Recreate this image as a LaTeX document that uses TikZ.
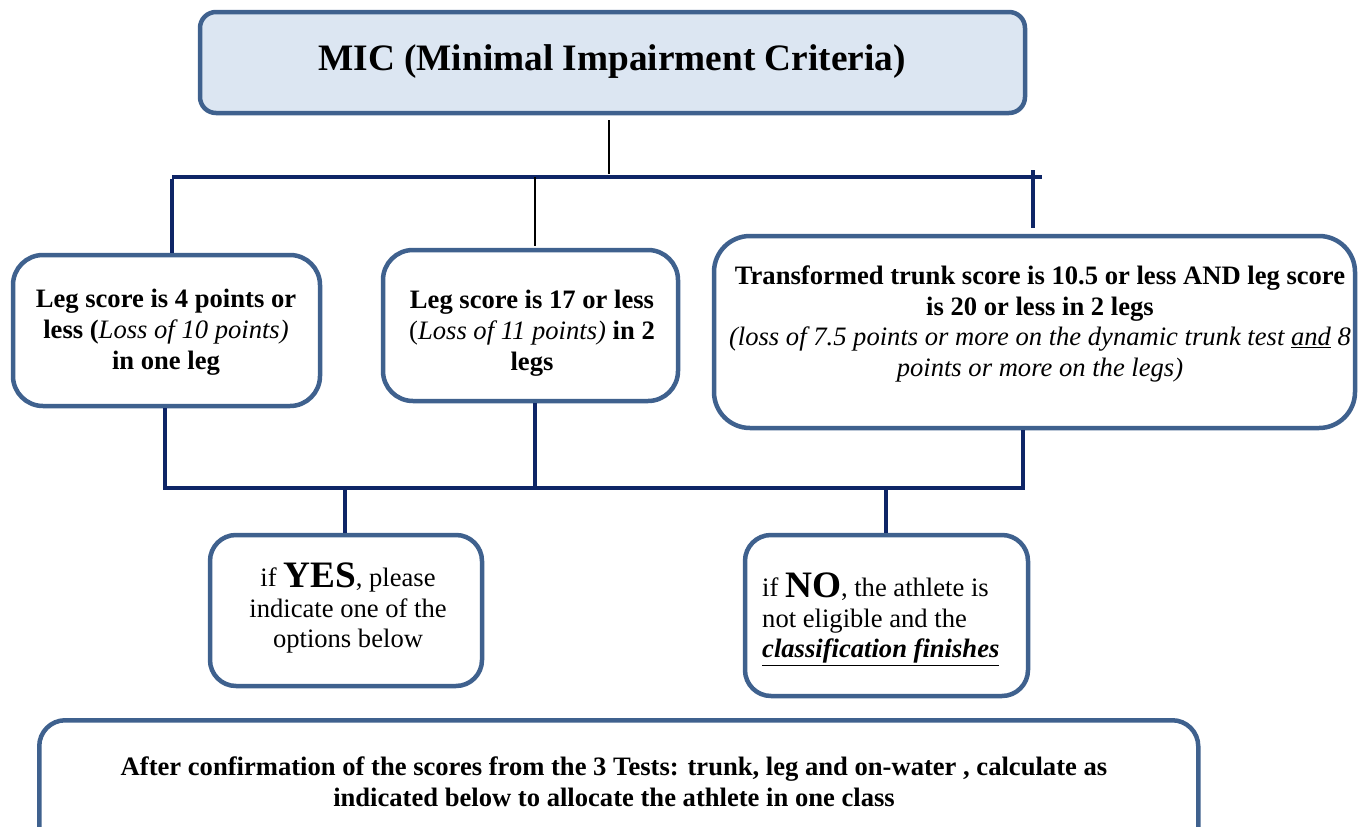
\documentclass[tikz,border=0pt]{standalone}
\usepackage{fontspec}
\setmainfont{Liberation Serif}
\definecolor{boxline}{HTML}{3F618E}
\definecolor{titlefill}{HTML}{DCE6F2}
\definecolor{navy}{HTML}{0E2566}
\tikzset{
  box/.style={draw=boxline, line width=4.5pt, fill=white, inner sep=0pt},
  navyline/.style={draw=navy, line width=3.5pt},
  blackline/.style={draw=black, line width=2.5pt},
  txt/.style={align=center, inner sep=0pt, font=\fontsize{26.6}{30.8}\selectfont},
}
\begin{document}
\begin{tikzpicture}[x=1pt,y=-1pt]
\useasboundingbox (0,0) rectangle (1368,827);
% boxes
\node[box, fill=titlefill, rounded corners=16pt, minimum width=825pt, minimum height=101pt] (title) at (612.5,62.5) {};
\node[font=\fontsize{37.3}{40}\selectfont\bfseries, inner sep=0pt] (titletext) at (612,62) {MIC (Minimal Impairment Criteria)};

\node[box, rounded corners=30pt, minimum width=307pt, minimum height=151pt] (a) at (166.5,330.5) {};
\node[txt] (atext) at (166,332) {\textbf{Leg score is 4 points or}\\\textbf{less (}\textit{Loss of 10 points)}\\\textbf{in one leg}};

\node[box, rounded corners=30pt, minimum width=295pt, minimum height=151pt] (b) at (530.5,325.5) {};
\node[txt] (btext) at (532,333) {\textbf{Leg score is 17 or less}\\(\textit{Loss of 11 points)} \textbf{in 2}\\\textbf{legs}};

\node[box, rounded corners=36pt, minimum width=641pt, minimum height=192pt] (c) at (1034.5,332) {};
\node[txt] (ctext) at (1040,324) {\textbf{Transformed trunk score is 10.5 or less AND leg score}\\\textbf{is 20 or less in 2 legs}\\\textit{(loss of 7.5 points or more on the dynamic trunk test \underline{and} 8}\\\textit{points or more on the legs)}};

\node[box, rounded corners=26pt, minimum width=272pt, minimum height=151pt] (yes) at (346,610.5) {};
\node[txt] (yestext) at (348,608) {if \raisebox{-1pt}{\fontsize{37.3}{40}\selectfont\bfseries YES}, please\\indicate one of the\\options below};

\node[box, rounded corners=26pt, minimum width=283pt, minimum height=161pt] (no) at (886.5,615.5) {};
\node[txt, align=left, anchor=west] (notext) at (762,619) {if \raisebox{-1pt}{\fontsize{37.3}{40}\selectfont\bfseries NO}, the athlete is\\not eligible and the\\\underline{\textbf{\textit{classification finishes}}}};

\node[box, rounded corners=26pt, minimum width=1159pt, minimum height=160pt, anchor=north west] (final) at (37,718) {};
\node[txt] (finaltext) at (614,782) {\textbf{After confirmation of the scores from the 3 Tests: trunk, leg and on-water , calculate as}\\\textbf{indicated below to allocate the athlete in one class}};

% upper connectors
\coordinate (tl) at (172,177);
\coordinate (tr) at (1042,177);
\coordinate (tm) at (535,177);
\coordinate (tc) at (1033,170);
\draw[blackline] ([xshift=-3.5pt,yshift=-5pt]title.south) -- ++(0,54);
\draw[navyline] (tl) -- (tr);
\draw[navyline] ([yshift=-1.75pt]tl) -- (tl |- a.north);
\draw[blackline] (tm) -- ([yshift=2pt]tm |- b.north);
\draw[navyline] (tc) -- ([yshift=6pt]tc |- c.north);

% lower connectors
\coordinate (bl) at (165,488);
\coordinate (bm) at (535,488);
\coordinate (br) at (1023,488);
\coordinate (by) at (345,488);
\coordinate (bn) at (886,488);
\draw[navyline] (bl |- a.south) -- (bl) -- (br) -- (br |- c.south);
\draw[navyline] (bm |- b.south) -- (bm);
\draw[navyline] (by) -- (by |- yes.north);
\draw[navyline] (bn) -- (bn |- no.north);
\end{tikzpicture}
\end{document}
